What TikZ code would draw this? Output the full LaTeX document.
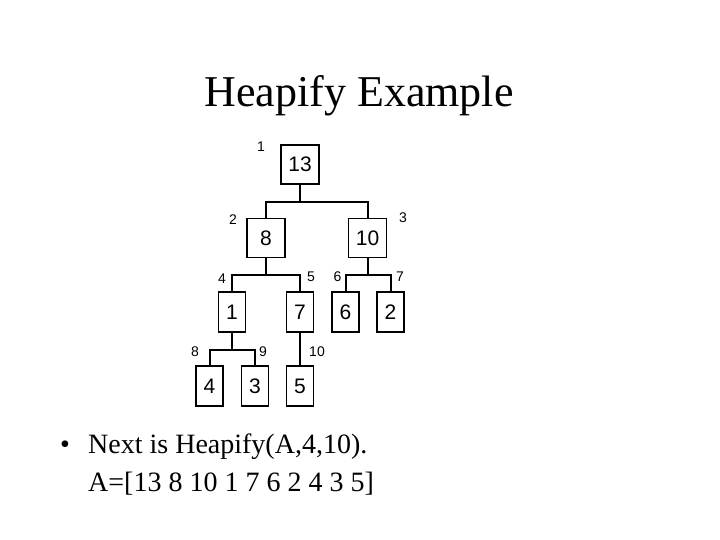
\documentclass[tikz,border=0pt]{standalone}
\usepackage{fontspec}
\setmainfont{Liberation Serif}
\newfontfamily\heapsans{Liberation Sans}
\usetikzlibrary{calc}
\tikzset{
  cell/.style={draw, line width=1.3pt, minimum width=38pt, minimum height=39pt, inner sep=0pt,
    font=\heapsans\fontsize{21}{25}\selectfont},
  smallcell/.style={cell, minimum width=27pt, minimum height=40pt},
  idx/.style={inner sep=0pt, font=\heapsans\fontsize{14}{16}\selectfont},
  edge/.style={line width=2pt},
  slidetext/.style={inner sep=0pt, font=\fontsize{28}{34}\selectfont}
}

\begin{document}
\begin{tikzpicture}[x=1pt, y=-1pt]
  \useasboundingbox (0,0) rectangle (720,540);

  % Title
  \node[anchor=base, inner sep=0pt, font=\fontsize{44}{52}\selectfont] (title) at (359,107) {Heapify Example};

  % Heap cells
  \node[cell] (c13) at (300,164.5) {13};
  \node[cell] (c8) at (266,238) {8};
  \node[cell] (c10) at (367.5,238) {10};
  \node[smallcell] (c1) at (232,312) {1};
  \node[smallcell] (c7) at (300,312) {7};
  \node[smallcell] (c6) at (345.5,312) {6};
  \node[smallcell] (c2) at (390.5,312) {2};
  \node[smallcell] (c4) at (209.5,386) {4};
  \node[smallcell] (c3) at (255,386) {3};
  \node[smallcell] (c5) at (300,386) {5};

  % Branches
  \draw[edge] (c13.south) -- ++(0pt,-17pt) -| (c8.north);
  \draw[edge] (c13.south) -- ++(0pt,-17pt) -| (c10.north);
  \draw[edge] (c8.south) -- ++(0pt,-17pt) -| (c1.north);
  \draw[edge] (c8.south) -- ++(0pt,-17pt) -| (c7.north);
  \draw[edge] (c10.south) -- ++(0pt,-17pt) -| (c6.north);
  \draw[edge] (c10.south) -- ++(0pt,-17pt) -| (c2.north);
  \draw[edge] (c1.south) -- ++(0pt,-17pt) -| (c4.north);
  \draw[edge] (c1.south) -- ++(0pt,-17pt) -| (c3.north);
  \draw[edge] (c7.south) -- (c5.north);

  % Indices
  \node[idx] (i1) at (261,147) {1};
  \node[idx] (i2) at (233,220) {2};
  \node[idx] (i3) at (403,218) {3};
  \node[idx] (i4) at (222,279) {4};
  \node[idx] (i5) at (311,277) {5};
  \node[idx] (i6) at (337.5,277) {6};
  \node[idx] (i7) at (400,277) {7};
  \node[idx] (i8) at (195,352) {8};
  \node[idx] (i9) at (263,352) {9};
  \node[idx] (i10) at (317,352) {10};

  % Bullet text
  \node[slidetext, anchor=base] (dot) at (65,453) {\textbullet};
  \node[slidetext, anchor=base west] (line1) at (88,453) {Next is Heapify(A,4,10).};
  \node[slidetext, anchor=base west] (line2) at (88,491) {A=[13 8 10 1 7 6 2 4 3 5]};
\end{tikzpicture}
\end{document}
